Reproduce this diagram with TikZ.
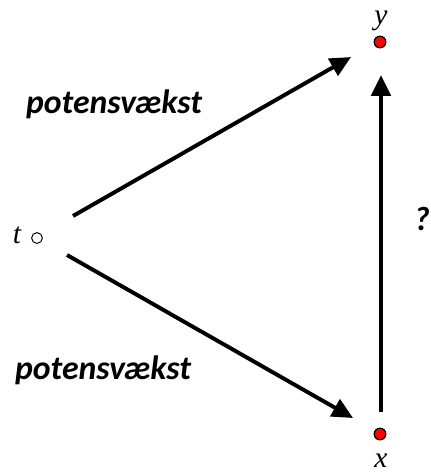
\documentclass[tikz,border=0pt]{standalone}
\usepackage{fontspec}
\newfontfamily\labelfont{Carlito}
\newfontfamily\varfont{Liberation Serif}
\usepackage{tikz}
\usetikzlibrary{arrows.meta}
\tikzset{
  point/.style={
    circle,
    draw=black,
    fill=red,
    line width=0.9pt,
    inner sep=0pt,
    minimum size=0.29cm
  },
  origin/.style={
    circle,
    draw=black,
    fill=white,
    line width=0.7pt,
    inner sep=0pt,
    minimum size=0.27cm
  },
  varlabel/.style={
    anchor=base,
    inner sep=0pt,
    font=\varfont\itshape\fontsize{21}{24}\selectfont
  },
  growth/.style={
    font=\labelfont\bfseries\itshape\fontsize{24}{28}\selectfont
  },
  mapping/.style={
    line width=2.8pt,
    -{Triangle[length=0.52cm,width=0.48cm]}
  }
}

\begin{document}
\begin{tikzpicture}[x=0.025cm, y=-0.025cm]
  \useasboundingbox (0,0) rectangle (430,474);

  \node[origin] (t) at (37,238) {};
  \node[point] (y) at (380,42) {};
  \node[point] (x) at (380,434) {};

  \node[varlabel] (tlabel) at (17,243) {t};
  \node[varlabel] (ylabel) at (381,24) {y};
  \node[varlabel] (xlabel) at (381,467) {x};

  \coordinate (upA) at (73,216);
  \coordinate (upB) at (351,57);
  \coordinate (lowA) at (67,255);
  \coordinate (lowB) at (353,418);
  \coordinate (vertA) at (381,412);
  \coordinate (vertB) at (381,75);

  \draw[mapping] (upA) -- (upB);
  \draw[mapping] (lowA) -- (lowB);
  \draw[mapping] (vertA) -- (vertB);

  \node[growth] (upper) at (114,104) {potensvækst};
  \node[growth] (lower) at (103,370) {potensvækst};
  \node[growth] (unknown) at (422,219) {?};
\end{tikzpicture}
\end{document}
